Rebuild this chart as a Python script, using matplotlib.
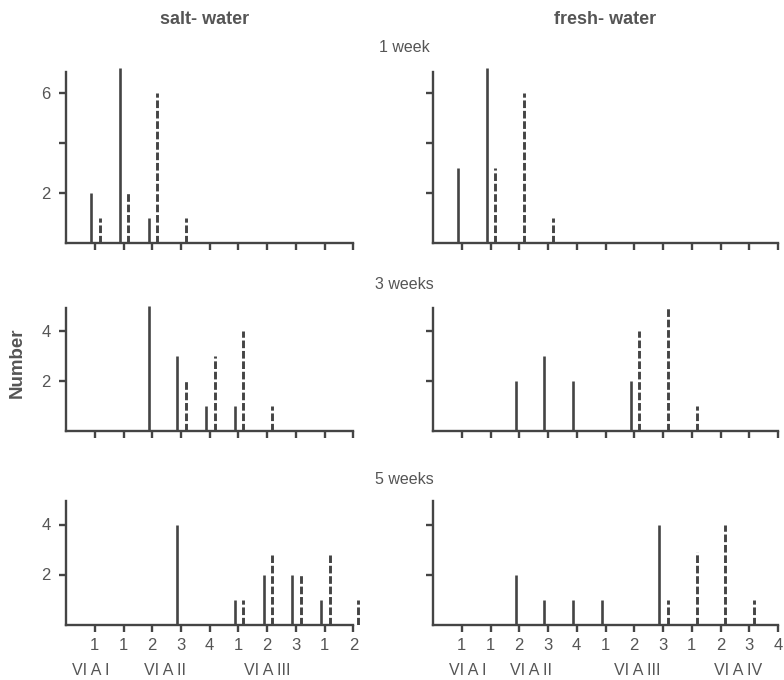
import matplotlib
matplotlib.use("Agg")
import matplotlib.pyplot as plt

plt.rcParams['font.family'] = ['Liberation Sans', 'DejaVu Sans']
plt.rcParams['lines.scale_dashes'] = False

TXT = '#555555'
LN = '#444444'

# ---- data ----
left_ticklabels = ['1', '1', '2', '3', '4', '1', '2', '3', '1', '2']
right_ticklabels = ['1', '1', '2', '3', '4', '1', '2', '3', '1', '2', '3', '4']
left_groups = ['VI A I', 'VI A II', 'VI A III']
left_group_pos = [0.87, 3.44, 7.0]
right_groups = ['VI A I', 'VI A II', 'VI A III', 'VI A IV']
right_group_pos = [1.2, 3.4, 7.1, 10.6]

# salt-water
salt_1w_solid_pos = [1, 2, 3]
salt_1w_solid_val = [2, 7, 1]
salt_1w_dash_pos = [1, 2, 3, 4]
salt_1w_dash_val = [1, 2, 6, 1]

salt_3w_solid_pos = [3, 4, 5, 6]
salt_3w_solid_val = [5, 3, 1, 1]
salt_3w_dash_pos = [4, 5, 6, 7]
salt_3w_dash_val = [2, 3, 4, 1]

salt_5w_solid_pos = [4, 6, 7, 8, 9]
salt_5w_solid_val = [4, 1, 2, 2, 1]
salt_5w_dash_pos = [6, 7, 8, 9, 10]
salt_5w_dash_val = [1, 2.8, 2, 2.8, 1]

# fresh-water
fresh_1w_solid_pos = [1, 2]
fresh_1w_solid_val = [3, 7]
fresh_1w_dash_pos = [2, 3, 4]
fresh_1w_dash_val = [3, 6, 1]

fresh_3w_solid_pos = [3, 4, 5, 7]
fresh_3w_solid_val = [2, 3, 2, 2]
fresh_3w_dash_pos = [7, 8, 9]
fresh_3w_dash_val = [4, 5, 1]

fresh_5w_solid_pos = [3, 4, 5, 6, 8]
fresh_5w_solid_val = [2, 1, 1, 1, 4]
fresh_5w_dash_pos = [8, 9, 10, 11]
fresh_5w_dash_val = [1, 2.9, 4, 1]

row_titles = ['1 week', '3 weeks', '5 weeks']
col_titles = ['salt- water', 'fresh- water']

# ---- layout (pixels) ----
W, H = 784, 680
U = 28.75
fig = plt.figure(figsize=(W / 100, H / 100), dpi=100)

rows = [  # baseline px, ymax, spine top, yticks, yticklabels (left)
    (243, 7, 6.85, [2, 4, 6], ['2', '', '6']),
    (431, 5, 4.92, [2, 4], ['2', '4']),
    (624.5, 5, 4.93, [2, 4], ['2', '4']),
]
cols = [  # left px, xmax lim, n ticks
    (66, 10.4, 10),
    (433, 12.05, 12),
]

panel_data = [
    [(salt_1w_solid_pos, salt_1w_solid_val, salt_1w_dash_pos, salt_1w_dash_val),
     (fresh_1w_solid_pos, fresh_1w_solid_val, fresh_1w_dash_pos, fresh_1w_dash_val)],
    [(salt_3w_solid_pos, salt_3w_solid_val, salt_3w_dash_pos, salt_3w_dash_val),
     (fresh_3w_solid_pos, fresh_3w_solid_val, fresh_3w_dash_pos, fresh_3w_dash_val)],
    [(salt_5w_solid_pos, salt_5w_solid_val, salt_5w_dash_pos, salt_5w_dash_val),
     (fresh_5w_solid_pos, fresh_5w_solid_val, fresh_5w_dash_pos, fresh_5w_dash_val)],
]

SOLID_OFF = -0.13
DASH_OFF = 0.17

for r, (base, ymax, spine_top, yt, ytl) in enumerate(rows):
    for c, (x0, xmax, nt) in enumerate(cols):
        hpx = ymax * 25
        wpx = xmax * U
        ax = fig.add_axes([x0 / W, (H - base) / H, wpx / W, hpx / H])
        ax.set_xlim(0, xmax)
        ax.set_ylim(0, ymax)
        sp, sv, dp, dv = panel_data[r][c]
        ax.vlines([p + SOLID_OFF for p in sp], 0, sv, colors=LN, linewidth=1.9)
        ax.vlines([p + DASH_OFF for p in dp], 0, dv, colors=LN, linewidth=2.1,
                  linestyles=[(0, (5.5, 2.0))])
        for s in ['top', 'right']:
            ax.spines[s].set_visible(False)
        for s in ['left', 'bottom']:
            ax.spines[s].set_color(LN)
            ax.spines[s].set_linewidth(1.7)
        ax.spines['left'].set_bounds(0, spine_top)
        ax.spines['bottom'].set_bounds(0, nt)
        ax.set_xticks(range(1, nt + 1))
        ax.set_yticks(yt)
        if c == 0:
            ax.set_yticklabels(ytl)
        else:
            ax.set_yticklabels([])
        if r == 2:
            ax.set_xticklabels(left_ticklabels if c == 0 else right_ticklabels)
            gl = left_groups if c == 0 else right_groups
            gp = left_group_pos if c == 0 else right_group_pos
            for g, p in zip(gl, gp):
                ax.text(p, -0.37, g, transform=ax.get_xaxis_transform(),
                        ha='center', va='center', fontsize=11.5, color=TXT)
        else:
            ax.set_xticklabels([])
        ax.tick_params(axis='both', direction='out', length=5, width=1.7,
                       color=LN, labelcolor=TXT, labelsize=12)
        ax.tick_params(axis='x', pad=5)
        ax.tick_params(axis='y', pad=6)
        ax.patch.set_visible(False)

# titles
fig.text(205 / W, 1 - 20 / H, col_titles[0], ha='center', va='center',
         fontsize=13, fontweight='bold', color=TXT)
fig.text(605 / W, 1 - 20 / H, col_titles[1], ha='center', va='center',
         fontsize=13, fontweight='bold', color=TXT)
for t, y in zip(row_titles, [48, 284, 479]):
    fig.text(404 / W, 1 - y / H, t, ha='center', va='center',
             fontsize=11.5, color=TXT)
fig.text(17 / W, 1 - 363 / H, 'Number', rotation=90, ha='center', va='center',
         fontsize=13.5, fontweight='bold', color=TXT)

fig.savefig('out.png', dpi=100)
